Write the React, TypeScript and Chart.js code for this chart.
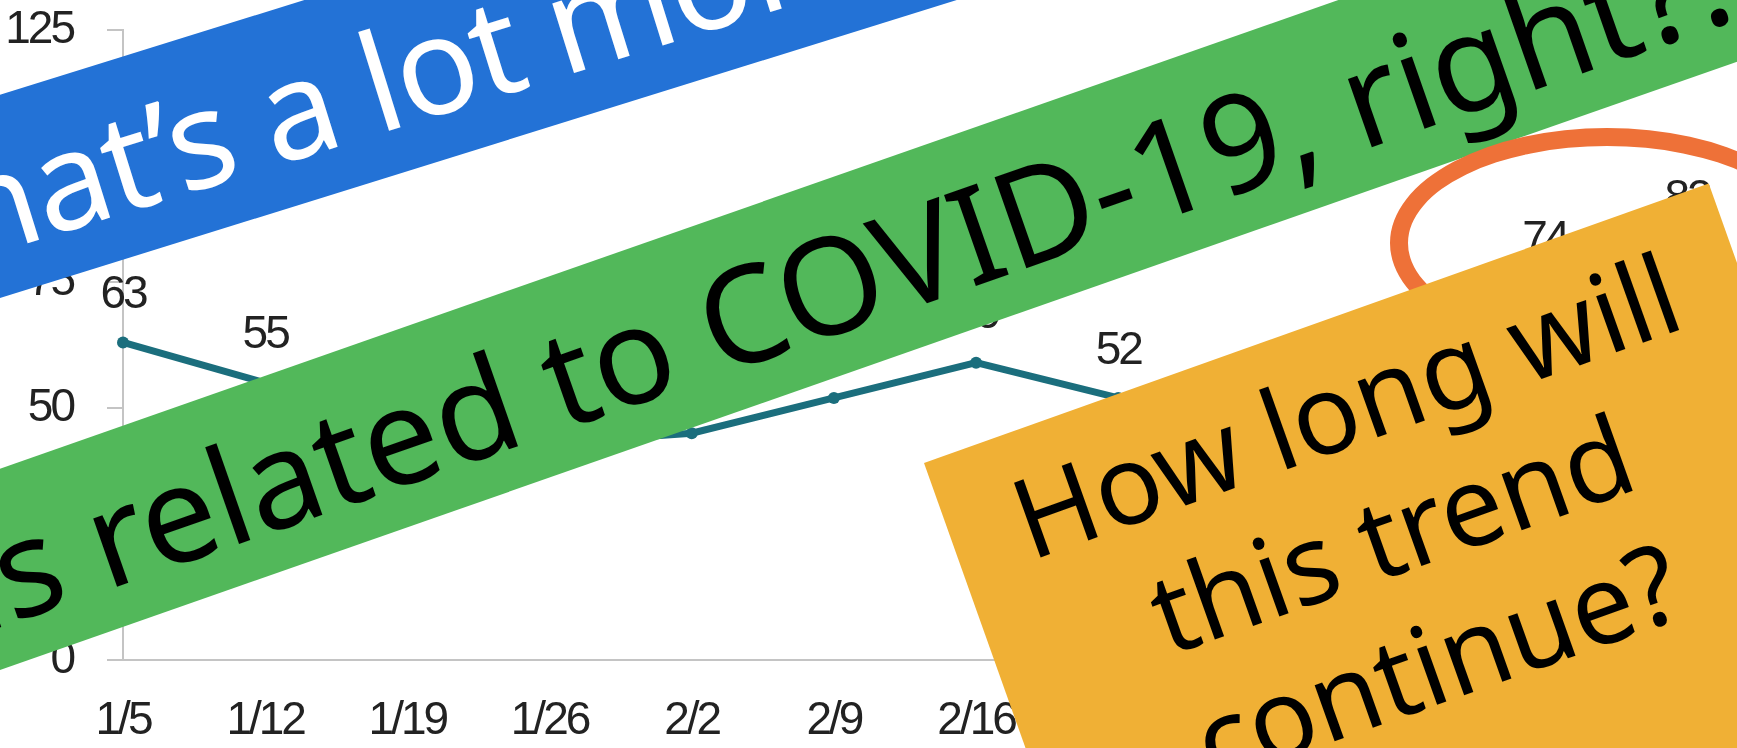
import React, { useEffect, useRef } from "react";
import { Chart, registerables } from "chart.js";

Chart.register(...registerables);

// ---- data ----
const categories = ["1/5", "1/12", "1/19", "1/26", "2/2", "2/9", "2/16", "2/23", "3/1", "3/8", "3/15", "3/22"];
const values = [63, 55, 48, 43, 45, 52, 59, 52, 47, 57, 74, 82];
const yMin = 0;
const yMax = 125;
const yStep = 25;

const blueText = "That’s a lot more…";
const greenText = "This is related to COVID-19, right?...";
const boxLines = ["How long will", "this trend", "continue?"];

// ---- styles ----
const NARROW = "'Liberation Sans Narrow', 'Arial Narrow', 'Liberation Sans', Arial, sans-serif";
const SANS = "'Noto Sans', 'Open Sans', sans-serif";
const LINE_COLOR = "#1b6e7d";
const AXIS_COLOR = "#c4c4c4";
const TEXT_COLOR = "#222222";

const narrowText = {
  id: "narrowText",
  beforeDraw(chart: any) {
    chart.ctx.letterSpacing = "-3px";
  },
};

const valueLabels = {
  id: "valueLabels",
  afterDatasetsDraw(chart: any) {
    const ctx = chart.ctx;
    const meta = chart.getDatasetMeta(0);
    const data = chart.data.datasets[0].data;
    ctx.save();
    ctx.letterSpacing = "-3px";
    ctx.font = `46px ${NARROW}`;
    ctx.fillStyle = TEXT_COLOR;
    ctx.textAlign = "center";
    ctx.textBaseline = "middle";
    meta.data.forEach((pt: any, i: number) => {
      ctx.fillText(String(data[i]), pt.x, pt.y - 47);
    });
    ctx.restore();
  },
};

function Banner(p: any) {
  const { ox, oy, angle, h, back, len, bg, color, text, fs, textX, base, ls } = p;
  return (
    <div
      style={{
        position: "absolute",
        left: 0,
        top: 0,
        width: back + len,
        height: h,
        background: bg,
        transformOrigin: "0 0",
        transform: `translate(${ox}px, ${oy}px) rotate(${angle}deg) translate(${-back}px, ${-h}px)`,
      }}
    >
      <span
        style={{
          position: "absolute",
          left: back + textX,
          top: h - base - 0.888 * fs,
          fontSize: fs,
          lineHeight: 1,
          letterSpacing: ls,
          color,
          whiteSpace: "nowrap",
          fontFamily: SANS,
        }}
      >
        {text}
      </span>
    </div>
  );
}

export default function App() {
  const ref = useRef<HTMLCanvasElement | null>(null);

  useEffect(() => {
    document.body.style.margin = "0";
    document.body.style.overflow = "hidden";
    const chart = new Chart(ref.current as HTMLCanvasElement, {
      type: "line",
      data: {
        labels: categories,
        datasets: [
          {
            data: values,
            borderColor: LINE_COLOR,
            backgroundColor: LINE_COLOR,
            borderWidth: 7,
            pointRadius: 6,
            pointBorderWidth: 0,
            pointBackgroundColor: LINE_COLOR,
            tension: 0,
            fill: false,
          },
        ],
      },
      options: {
        responsive: false,
        animation: false,
        devicePixelRatio: 1,
        layout: { padding: { top: 30, right: 50, left: 0, bottom: 0 } },
        plugins: { legend: { display: false }, tooltip: { enabled: false } },
        scales: {
          x: {
            offset: false,
            grid: { display: false, drawTicks: false },
            border: { display: true, color: AXIS_COLOR, width: 2 },
            ticks: {
              color: TEXT_COLOR,
              font: { family: NARROW, size: 46 },
              padding: 34,
              maxRotation: 0,
              autoSkip: false,
            },
            afterFit(scale: any) {
              scale.height = 88;
              scale.paddingLeft = 0;
              scale.paddingRight = 0;
            },
          },
          y: {
            min: yMin,
            max: yMax,
            grid: {
              display: true,
              drawOnChartArea: false,
              drawTicks: true,
              tickLength: 16,
              color: AXIS_COLOR,
              lineWidth: 2,
            },
            border: { display: true, color: AXIS_COLOR, width: 2 },
            ticks: {
              stepSize: yStep,
              color: TEXT_COLOR,
              font: { family: NARROW, size: 46 },
              padding: 34,
            },
            afterFit(scale: any) {
              scale.width = 123;
              scale.paddingTop = 0;
              scale.paddingBottom = 0;
            },
          },
        },
      },
      plugins: [narrowText, valueLabels],
    });
    return () => chart.destroy();
  }, []);

  return (
    <div
      style={{
        position: "absolute",
        left: 0,
        top: 0,
        width: 1737,
        height: 748,
        overflow: "hidden",
        background: "#ffffff",
      }}
    >
      <canvas ref={ref} width={1737} height={748} style={{ display: "block" }} />
      <Banner
        ox={0}
        oy={298}
        angle={-17.3}
        h={194}
        back={400}
        len={1500}
        bg="#2372d6"
        color="#ffffff"
        text={blueText}
        fs={136}
        ls={-2}
        textX={-92}
        base={43}
      />
      <Banner
        ox={0}
        oy={670}
        angle={-19.3}
        h={190}
        back={600}
        len={2200}
        bg="#52b85a"
        color="#000000"
        text={greenText}
        fs={135}
        ls={0}
        textX={-301}
        base={39}
      />
      <div
        style={{
          position: "absolute",
          left: 1390,
          top: 128,
          width: 434,
          height: 230,
          border: "18px solid #ee7138",
          borderRadius: "50%",
          boxSizing: "border-box",
        }}
      />
      <div
        style={{
          position: "absolute",
          left: 0,
          top: 0,
          width: 833,
          height: 700,
          background: "#f0b035",
          transformOrigin: "0 0",
          transform: "translate(924px, 463px) rotate(-19.6deg)",
          textAlign: "center",
          fontSize: 111,
          lineHeight: "136px",
          paddingTop: 17,
          boxSizing: "border-box",
          fontFamily: SANS,
          color: "#000000",
        }}
      >
        {boxLines.map((l) => (
          <div key={l} style={{ whiteSpace: "nowrap" }}>
            {l}
          </div>
        ))}
      </div>
    </div>
  );
}
